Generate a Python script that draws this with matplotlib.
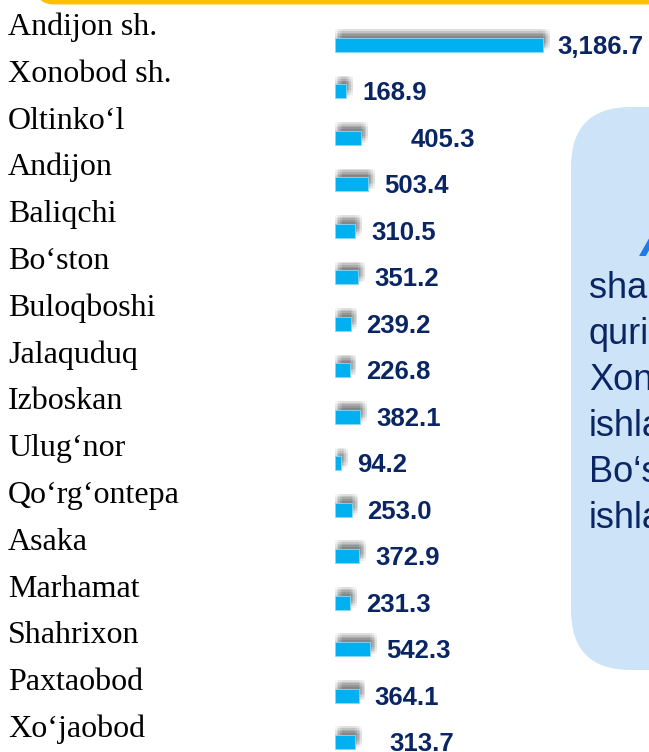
import matplotlib
matplotlib.use("Agg")
import matplotlib.pyplot as plt
import matplotlib.patheffects as pe
from matplotlib.patches import FancyBboxPatch

# ── data ────────────────────────────────────────────────────────────────
districts = ["Andijon sh.", "Xonobod sh.", "Oltinko‘l", "Andijon", "Baliqchi",
             "Bo‘ston", "Buloqboshi", "Jalaquduq", "Izboskan", "Ulug‘nor",
             "Qo‘rg‘ontepa", "Asaka", "Marhamat", "Shahrixon", "Paxtaobod",
             "Xo‘jaobod"]
values = [3186.7, 168.9, 405.3, 503.4, 310.5, 351.2, 239.2, 226.8, 382.1,
          94.2, 253.0, 372.9, 231.3, 542.3, 364.1, 313.7]
note_lines = ["sha", "quri", "Xon", "ishla", "Bo‘s", "ishla"]

# extra horizontal nudge (points) for labels that sit further right
label_extra = {2: 24, 15: 13, 0: -1.5}

W, H, DPI = 649, 752, 100
BAR = "#00B0F0"
NAVY = "#0A2564"

fig = plt.figure(figsize=(W / DPI, H / DPI), dpi=DPI)
fig.patch.set_facecolor("white")

# ── decoration layer in pixel coords ────────────────────────────────────
deco = fig.add_axes([0, 0, 1, 1])
deco.set_xlim(0, W)
deco.set_ylim(H, 0)
deco.axis("off")
deco.add_patch(FancyBboxPatch((38 + 16, -200), 800, 200 + 2 - 16,
                              boxstyle="round,pad=16",
                              fc="none", ec="#FFC000", lw=3.5))
deco.add_patch(FancyBboxPatch((571 + 60, 107 + 60), 300, 670 - 107 - 120,
                              boxstyle="round,pad=60",
                              fc="#CCE3F8", ec="none"))
deco.text(640, 256, "A", fontsize=34, fontweight="bold", fontstyle="italic",
          color="#1F7BE6", family="Liberation Sans", va="baseline")
for k, line in enumerate(note_lines):
    deco.text(589, 298 + 46 * k, line, fontsize=26, color=NAVY,
              family="Liberation Sans", va="baseline")

# ── district names ──────────────────────────────────────────────────────
lab = fig.add_axes([0, 0, 1, 1])
lab.set_ylim((H - 35) / 46.8, -35 / 46.8)
lab.axis("off")
for i, name in enumerate(districts):
    lab.text(8 / W, i, name, transform=lab.get_yaxis_transform(),
             fontsize=23, family="Liberation Serif", color="black",
             va="baseline", ha="left")

# ── bars ────────────────────────────────────────────────────────────────
x0 = 335
scale = 208 / 3186.7          # px per unit
ax = fig.add_axes([x0 / W, 0, (W - x0) / W, 1])
ax.set_xlim(0, (W - x0) / scale)
ax.set_ylim((H - 45) / 46.47, -45 / 46.47)
ax.axis("off")

# soft shadow: many faint offset copies, up and to the right
shadow = [pe.SimplePatchShadow(offset=(dx, dy), shadow_rgbFace="#404040",
                               alpha=0.035)
          for dx in (0.0, 1.2, 2.4, 3.6, 4.8) for dy in (1.5, 2.7, 3.9, 5.1, 6.3)]
bars = ax.barh(range(len(values)), values, height=0.30, color=BAR,
               edgecolor="#8AD8F5", linewidth=0.6)
for b in bars:
    b.set_path_effects(shadow + [pe.Normal()])

for i, v in enumerate(values):
    ax.annotate(f"{v:,.1f}", xy=(v, i),
                xytext=(11.5 + label_extra.get(i, 0), -6.5),
                textcoords="offset points", va="baseline", ha="left",
                fontsize=18.5, fontweight="bold", color=NAVY,
                family="Liberation Sans", annotation_clip=False)

fig.savefig("out.png", dpi=DPI)
